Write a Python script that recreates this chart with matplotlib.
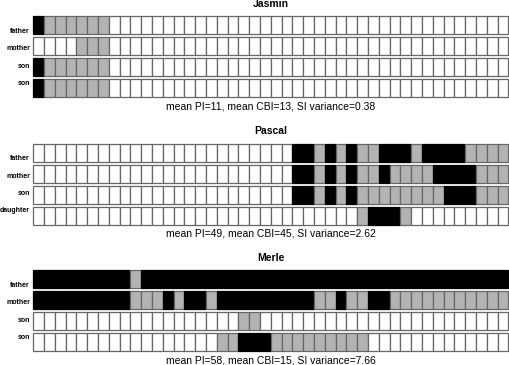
import matplotlib
matplotlib.use('Agg')
import matplotlib.pyplot as plt
import matplotlib.transforms as mtransforms

plt.rcParams['font.family'] = ['Liberation Sans', 'DejaVu Sans']

# W = white, G = grey, B = black; 44 cells per row
names = ['Jasmin', 'Pascal', 'Merle']

jasmin_labels = ['father', 'mother', 'son', 'son']
jasmin_rows = [
    'B' + 'G' * 6 + 'W' * 37,
    'W' * 4 + 'G' * 3 + 'W' * 37,
    'B' + 'G' * 6 + 'W' * 37,
    'B' + 'G' * 6 + 'W' * 37,
]

pascal_labels = ['father', 'mother', 'son', 'daughter']
pascal_rows = [
    'W' * 24 + 'BBGBGBGGBBBGBBBBGGGG',
    'W' * 24 + 'BBGBGBGGBGGGGBBBBGGG',
    'W' * 24 + 'BBGBGB' + 'G' * 8 + 'BBB' + 'GGG',
    'W' * 30 + 'G' + 'BBB' + 'G' + 'W' * 9,
]

merle_labels = ['father', 'mother', 'son', 'son']
merle_rows = [
    'B' * 9 + 'G' + 'B' * 34,
    'B' * 9 + 'GGG' + 'B' + 'G' + 'BB' + 'G' + 'B' * 9 + 'GG' + 'B' + 'GG' + 'BB' + 'G' * 11,
    'W' * 19 + 'GG' + 'W' * 23,
    'W' * 17 + 'GG' + 'BBB' + 'G' * 9 + 'W' * 13,
]

mean_pi = [11, 49, 58]
mean_cbi = [13, 45, 15]
si_variance = [0.38, 2.62, 7.66]

fill = {'W': 'white', 'G': '#b3b3b3', 'B': 'black'}
edge = {'W': '#666666', 'G': '#666666', 'B': 'black'}

W, H = 510, 365
fig = plt.figure(figsize=(W / 100, H / 100), dpi=100)

left_px, right_px = 33.3, 508.3
pitch, cell_h = 21.0, 18.0
tops = [16, 143.5, 270]

panels = [(jasmin_labels, jasmin_rows), (pascal_labels, pascal_rows), (merle_labels, merle_rows)]

for p, (labels, rows) in enumerate(panels):
    n_rows = len(rows)
    span = (n_rows - 1) * pitch + cell_h
    top = tops[p]
    ax = fig.add_axes([left_px / W, 1 - (top + span) / H, (right_px - left_px) / W, span / H])
    n_cols = len(rows[0])

    for i, row in enumerate(rows):
        ax.bar(range(n_cols), cell_h / pitch, bottom=i, width=1, align='edge',
               color=[fill[c] for c in row], edgecolor=[edge[c] for c in row],
               linewidth=0.9, clip_on=False)

    ax.set_xlim(0, n_cols)
    ax.set_ylim(span / pitch, 0)
    ax.axis('off')

    trans = mtransforms.blended_transform_factory(ax.transAxes, ax.transData)
    for i, lab in enumerate(labels):
        ax.text(-0.007, (15.5 + 17.3 * i) / pitch, lab, transform=trans,
                ha='right', va='center', fontsize=5, fontweight='bold')

    ax.text(0.5, -9 / pitch, names[p], transform=trans, ha='center', va='baseline',
            fontsize=7.5, fontweight='bold')
    ax.text(0.5, (span + 9.5) / pitch,
            f'mean PI={mean_pi[p]}, mean CBI={mean_cbi[p]}, SI variance={si_variance[p]:.2f}',
            transform=trans, ha='center', va='center', fontsize=7.5)

fig.savefig('out.png', dpi=100)
